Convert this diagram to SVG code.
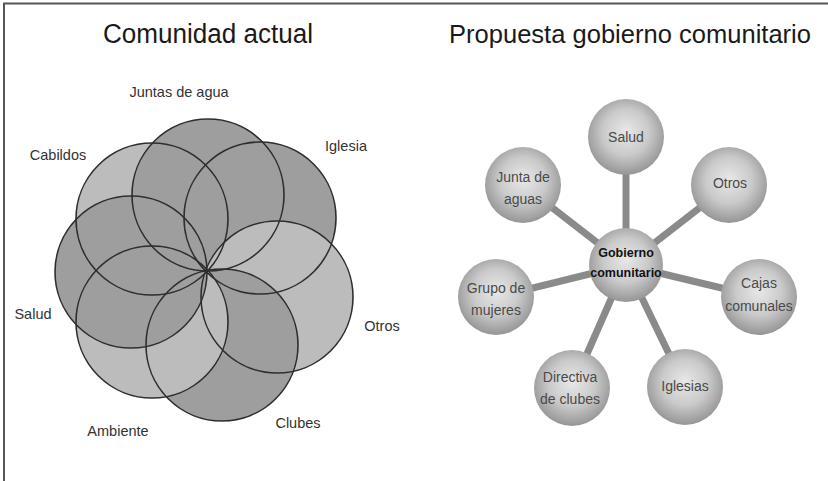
<svg xmlns="http://www.w3.org/2000/svg" width="828" height="481" viewBox="0 0 828 481">
<defs>
<radialGradient id="sphere" cx="50%" cy="45%" r="55%" fx="50%" fy="42%">
<stop offset="0" stop-color="#e8e8e8"/>
<stop offset="0.55" stop-color="#cacaca"/>
<stop offset="1" stop-color="#959595"/>
</radialGradient>
<style>
.title{font-family:"Liberation Sans",Arial,sans-serif;font-size:27px;fill:#1a1a1a;text-anchor:middle}
.lbl{font-family:"Liberation Sans",Arial,sans-serif;font-size:14.5px;fill:#333;text-anchor:middle}
.nlbl{font-family:"Liberation Sans",Arial,sans-serif;font-size:14px;fill:#4a4a4a;text-anchor:middle}
.clbl{font-family:"Liberation Sans",Arial,sans-serif;font-size:12.5px;font-weight:bold;fill:#111;text-anchor:middle}
.light{fill:#bcbcbc}
.dark{fill:#9e9e9e}
.outline{fill:none;stroke:#2e2e2e;stroke-width:1.6}
.spoke{stroke:#8a8a8a;stroke-width:7;stroke-linecap:butt}
.ball{fill:url(#sphere)}
</style>
</defs>
<rect x="0" y="0" width="828" height="481" fill="#ffffff"/>
<path d="M4 481 V3.5 H828" fill="none" stroke="#555" stroke-width="2"/>

<text class="title" x="208" y="43" textLength="210" lengthAdjust="spacingAndGlyphs">Comunidad actual</text>
<text class="title" x="630" y="43" style="font-size:25.5px" textLength="362" lengthAdjust="spacingAndGlyphs">Propuesta gobierno comunitario</text>

<!-- Left: overlapping circles -->
<g id="cabildos"><circle class="light" cx="152" cy="219" r="76"/><text class="lbl" x="58" y="160">Cabildos</text></g>
<g id="juntas-de-agua"><circle class="dark" cx="208" cy="195" r="76"/><text class="lbl" x="179" y="97">Juntas de agua</text></g>
<g id="iglesia"><circle class="dark" cx="260" cy="218" r="76"/><text class="lbl" x="346" y="151">Iglesia</text></g>
<g id="otros"><circle class="light" cx="277" cy="297" r="76"/><text class="lbl" x="382" y="331">Otros</text></g>
<g id="clubes"><circle class="dark" cx="222" cy="345" r="76"/><text class="lbl" x="298" y="428">Clubes</text></g>
<g id="ambiente"><circle class="light" cx="152" cy="322" r="76"/><text class="lbl" x="118" y="436">Ambiente</text></g>
<g id="salud"><circle class="dark" cx="131" cy="272" r="76"/><text class="lbl" x="33" y="319">Salud</text></g>
<g id="venn-outlines">
<circle class="outline" cx="152" cy="219" r="76"/>
<circle class="outline" cx="208" cy="195" r="76"/>
<circle class="outline" cx="260" cy="218" r="76"/>
<circle class="outline" cx="277" cy="297" r="76"/>
<circle class="outline" cx="222" cy="345" r="76"/>
<circle class="outline" cx="152" cy="322" r="76"/>
<circle class="outline" cx="131" cy="272" r="76"/>
</g>

<!-- Right: hub and spokes -->
<g id="connectors">
<line class="spoke" x1="626" y1="265" x2="626" y2="137"/>
<line class="spoke" x1="626" y1="265" x2="729" y2="185"/>
<line class="spoke" x1="626" y1="265" x2="523" y2="185"/>
<line class="spoke" x1="626" y1="265" x2="496" y2="297"/>
<line class="spoke" x1="626" y1="265" x2="759" y2="297"/>
<line class="spoke" x1="626" y1="265" x2="572" y2="388"/>
<line class="spoke" x1="626" y1="265" x2="685" y2="387"/>
</g>
<g id="n-salud"><circle class="ball" cx="626" cy="137" r="38"/><text class="nlbl" x="626" y="142">Salud</text></g>
<g id="n-otros"><circle class="ball" cx="729" cy="185" r="38"/><text class="nlbl" x="730" y="188">Otros</text></g>
<g id="n-junta"><circle class="ball" cx="523" cy="185" r="38"/><text class="nlbl" x="523" y="182">Junta de</text><text class="nlbl" x="523" y="204">aguas</text></g>
<g id="n-grupo"><circle class="ball" cx="496" cy="297" r="38"/><text class="nlbl" x="496" y="293">Grupo de</text><text class="nlbl" x="496" y="315">mujeres</text></g>
<g id="n-cajas"><circle class="ball" cx="759" cy="297" r="38"/><text class="nlbl" x="759" y="288">Cajas</text><text class="nlbl" x="759" y="311">comunales</text></g>
<g id="n-directiva"><circle class="ball" cx="572" cy="388" r="38"/><text class="nlbl" x="570" y="382">Directiva</text><text class="nlbl" x="570" y="404">de clubes</text></g>
<g id="n-iglesias"><circle class="ball" cx="685" cy="387" r="38"/><text class="nlbl" x="685" y="391">Iglesias</text></g>
<g id="n-gobierno"><circle class="ball" cx="626" cy="265" r="37"/><text class="clbl" x="626" y="257">Gobierno</text><text class="clbl" x="626" y="277">comunitario</text></g>
</svg>
